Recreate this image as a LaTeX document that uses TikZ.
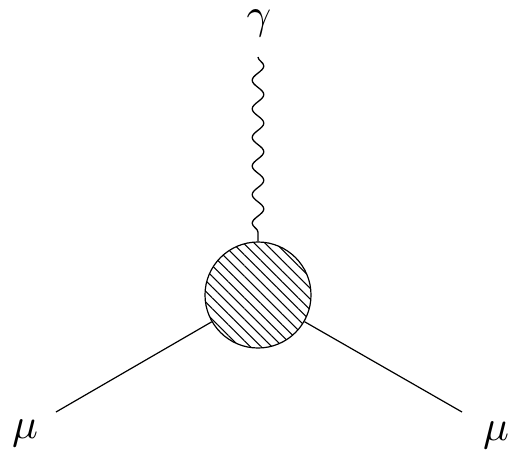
\documentclass[tikz,border=0pt]{standalone}
\usetikzlibrary{decorations.pathmorphing,patterns.meta}
\begin{document}
\begin{tikzpicture}[x=1pt,y=-1pt,
  line/.style={line width=1.2pt},
  blob/.style={circle,draw,line width=1.2pt,minimum size=106pt,inner sep=0pt,
    pattern={Lines[angle=-45,distance=7.6pt,line width=1.1pt]}},
  photon/.style={line width=1.3pt,decorate,decoration={snake,segment length=28.6pt,amplitude=5.8pt,post length=3pt}},
  lbl/.style={anchor=base,inner sep=0pt,scale=4.3}]
\useasboundingbox (0,0) rectangle (513,451);
\node[blob] (c) at (258,295) {};
\coordinate (g) at (258,57);
\coordinate (l) at (56,412);
\coordinate (r) at (462,412);
\draw[photon] (g) -- (c.north);
\draw[line] (l) -- (c);
\draw[line] (r) -- (c);
\node[lbl] (gl) at (259,28.5) {$\gamma$};
\node[lbl] (ml) at (25,438) {$\mu$};
\node[lbl] (mr) at (496,440) {$\mu$};
\end{tikzpicture}
\end{document}
